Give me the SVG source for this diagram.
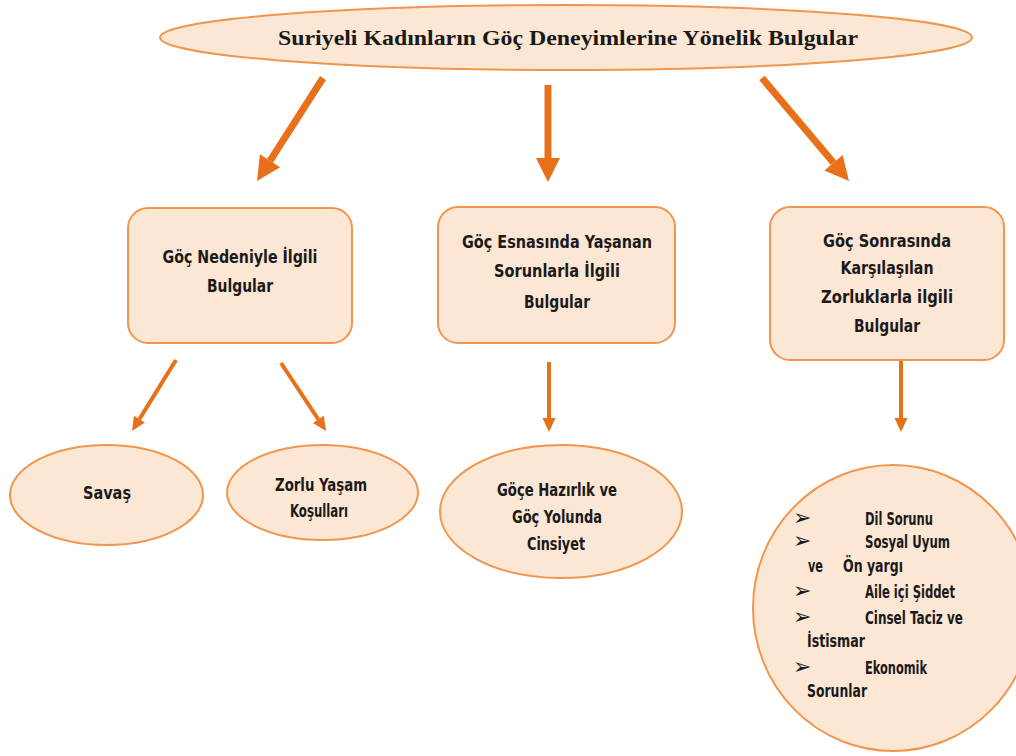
<svg xmlns="http://www.w3.org/2000/svg" width="1016" height="756" viewBox="0 0 1016 756">
<style>
.node{fill:#FCE6D4;stroke:#F0964E;stroke-width:2}
.t{font-family:"DejaVu Sans Condensed","DejaVu Sans",sans-serif;font-stretch:condensed;font-weight:bold;font-size:18px;fill:#1a1a1a;text-anchor:middle}
.l{font-family:"DejaVu Sans Condensed","DejaVu Sans",sans-serif;font-stretch:condensed;font-weight:bold;font-size:17px;fill:#1a1a1a}
.b{font-family:"DejaVu Sans",sans-serif;font-size:22px;fill:#1a1a1a}
.title{font-family:"Liberation Serif","Times New Roman",serif;font-weight:bold;font-size:22px;fill:#1a1a1a;text-anchor:middle}
.big{stroke:#E8701A;stroke-width:7;fill:none}
.small{stroke:#E8701A;stroke-width:4;fill:none}
</style>
<defs>
<marker id="hb" markerUnits="userSpaceOnUse" viewBox="0 0 24 24" markerWidth="24" markerHeight="24" refX="0" refY="12" orient="auto" overflow="visible">
<path d="M0,0 L24,12 L0,24 z" fill="#E8701A"/>
</marker>
<marker id="hs" markerUnits="userSpaceOnUse" viewBox="0 0 14 13" markerWidth="14" markerHeight="13" refX="0" refY="6.5" orient="auto" overflow="visible">
<path d="M0,0 L14,6.5 L0,13 z" fill="#E8701A"/>
</marker>
</defs>
<rect width="1016" height="756" fill="#ffffff"/>
<g id="connectors">
<line class="big" x1="323" y1="78" x2="270" y2="160.8" marker-end="url(#hb)"/>
<line class="big" x1="548" y1="85" x2="548" y2="158" marker-end="url(#hb)"/>
<line class="big" x1="762" y1="78" x2="833.5" y2="162.7" marker-end="url(#hb)"/>
<line class="small" x1="176" y1="360" x2="139.4" y2="419.1" marker-end="url(#hs)"/>
<line class="small" x1="281" y1="363" x2="318.3" y2="419.3" marker-end="url(#hs)"/>
<line class="small" x1="549" y1="362" x2="549" y2="418" marker-end="url(#hs)"/>
<line class="small" x1="901" y1="361" x2="901" y2="418" marker-end="url(#hs)"/>
</g>
<g id="root">
<ellipse class="node" cx="566" cy="37.5" rx="406" ry="32.5"/>
<text class="title" x="568" y="45" textLength="580" lengthAdjust="spacingAndGlyphs">Suriyeli Kadınların Göç Deneyimlerine Yönelik Bulgular</text>
</g>
<g id="n-neden">
<rect class="node" x="128" y="208" width="224" height="135" rx="20"/>
<text class="t" x="240" y="263" textLength="155" lengthAdjust="spacingAndGlyphs">Göç Nedeniyle İlgili</text>
<text class="t" x="240" y="292" textLength="66" lengthAdjust="spacingAndGlyphs">Bulgular</text>
</g>
<g id="n-esnasinda">
<rect class="node" x="438" y="207" width="237" height="136" rx="20"/>
<text class="t" x="557" y="248" textLength="190" lengthAdjust="spacingAndGlyphs">Göç Esnasında Yaşanan</text>
<text class="t" x="557" y="277" textLength="126" lengthAdjust="spacingAndGlyphs">Sorunlarla İlgili</text>
<text class="t" x="557" y="308" textLength="66" lengthAdjust="spacingAndGlyphs">Bulgular</text>
</g>
<g id="n-sonrasinda">
<rect class="node" x="770" y="207" width="234" height="153" rx="20"/>
<text class="t" x="887" y="247" textLength="128" lengthAdjust="spacingAndGlyphs">Göç Sonrasında</text>
<text class="t" x="887" y="274" textLength="93" lengthAdjust="spacingAndGlyphs">Karşılaşılan</text>
<text class="t" x="887" y="303" textLength="132" lengthAdjust="spacingAndGlyphs">Zorluklarla ilgili</text>
<text class="t" x="887" y="332" textLength="66" lengthAdjust="spacingAndGlyphs">Bulgular</text>
</g>
<g id="n-savas">
<ellipse class="node" cx="106.5" cy="495" rx="96.5" ry="50"/>
<text class="t" x="107" y="499" textLength="48" lengthAdjust="spacingAndGlyphs">Savaş</text>
</g>
<g id="n-zorlu">
<ellipse class="node" cx="322.5" cy="492.5" rx="95.5" ry="47.5"/>
<text class="t" x="321" y="491" textLength="92" lengthAdjust="spacingAndGlyphs">Zorlu Yaşam</text>
<text class="t" x="319" y="517" textLength="58" lengthAdjust="spacingAndGlyphs">Koşulları</text>
</g>
<g id="n-gocehazirlik">
<ellipse class="node" cx="561" cy="511.5" rx="121" ry="66.5"/>
<text class="t" x="557" y="496" textLength="120" lengthAdjust="spacingAndGlyphs">Göçe Hazırlık ve</text>
<text class="t" x="557" y="523" textLength="90" lengthAdjust="spacingAndGlyphs">Göç Yolunda</text>
<text class="t" x="556" y="550" textLength="58" lengthAdjust="spacingAndGlyphs">Cinsiyet</text>
</g>
<g id="n-zorluklar">
<ellipse class="node" cx="893" cy="608" rx="140" ry="143"/>
<text class="b" x="793" y="525">➢</text><text class="l" x="865" y="525" textLength="68" lengthAdjust="spacingAndGlyphs">Dil Sorunu</text>
<text class="b" x="793" y="548">➢</text><text class="l" x="865" y="548" textLength="85" lengthAdjust="spacingAndGlyphs">Sosyal Uyum</text>
<text class="l" x="808" y="572" textLength="15" lengthAdjust="spacingAndGlyphs">ve</text><text class="l" x="843" y="572" textLength="60" lengthAdjust="spacingAndGlyphs">Ön yargı</text>
<text class="b" x="793" y="598">➢</text><text class="l" x="865" y="598" textLength="90" lengthAdjust="spacingAndGlyphs">Aile içi Şiddet</text>
<text class="b" x="793" y="624">➢</text><text class="l" x="865" y="624" textLength="98" lengthAdjust="spacingAndGlyphs">Cinsel Taciz ve</text>
<text class="l" x="807" y="647" textLength="58" lengthAdjust="spacingAndGlyphs">İstismar</text>
<text class="b" x="793" y="674">➢</text><text class="l" x="865" y="674" textLength="62" lengthAdjust="spacingAndGlyphs">Ekonomik</text>
<text class="l" x="807" y="697" textLength="60" lengthAdjust="spacingAndGlyphs">Sorunlar</text>
</g>
</svg>
